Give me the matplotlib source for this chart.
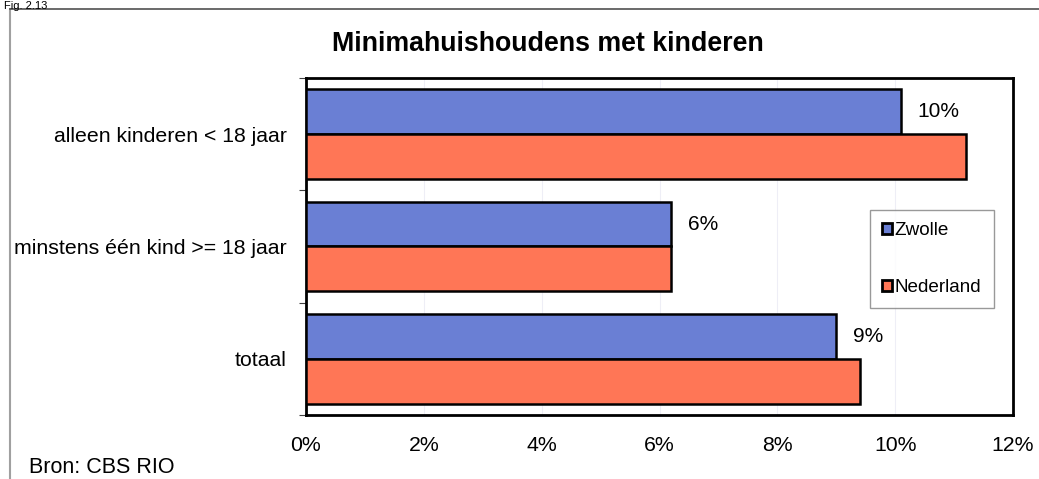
import matplotlib
matplotlib.use("Agg")
import matplotlib.pyplot as plt
from matplotlib.lines import Line2D
import numpy as np

categories = ["alleen kinderen < 18 jaar", "minstens één kind >= 18 jaar", "totaal"]
zwolle = [10.1, 6.2, 9.0]
nederland = [11.2, 6.2, 9.4]
zwolle_labels = ["10%", "6%", "9%"]
xticks = [0, 2, 4, 6, 8, 10, 12]

BLUE = "#6a7fd4"
SALMON = "#ff7656"

plt.rcParams["font.family"] = ["Liberation Sans", "DejaVu Sans"]

fig = plt.figure(figsize=(10.39, 4.79), dpi=100)
ax = fig.add_axes([0.2945, 0.1336, 0.6805, 0.7036])

y = np.arange(len(categories))
h = 0.4
ax.barh(y - h / 2, zwolle, height=h, color=BLUE, edgecolor="black", lw=1.8, label="Zwolle", zorder=3)
ax.barh(y + h / 2, nederland, height=h, color=SALMON, edgecolor="black", lw=1.8, label="Nederland", zorder=3)
for yi, v, lab in zip(y, zwolle, zwolle_labels):
    ax.text(v + 0.28, yi - h / 2, lab, va="center", ha="left", fontsize=15)

ax.set_ylim(len(categories) - 0.5, -0.5)
ax.set_xlim(0, 12)
ax.set_yticks(y)
ax.set_yticklabels(categories, fontsize=15.3)
ax.set_yticks(np.arange(-0.5, len(categories), 1), minor=True)
ax.tick_params(axis="y", which="major", length=0, pad=14)
ax.tick_params(axis="y", which="minor", length=5, width=0.8, color="#404040")
ax.set_xticks(xticks)
ax.set_xticklabels([f"{t}%" for t in xticks], fontsize=15.3)
ax.tick_params(axis="x", length=0, pad=15)
ax.grid(axis="x", color="#eeeef6", lw=0.8, zorder=0)
for s in ax.spines.values():
    s.set_linewidth(2)
    s.set_color("black")

leg = ax.legend(loc="upper left", bbox_to_anchor=(0.798, 0.608), fontsize=13.6, frameon=True,
                fancybox=False, edgecolor="#808080", handlelength=0.5, handleheight=0.5,
                handletextpad=0.15, labelspacing=2.1, borderpad=0.65, borderaxespad=0)
leg.get_frame().set_linewidth(1)
for p in leg.get_patches():
    p.set_linewidth(2)

fig.text(0.527, 0.908, "Minimahuishoudens met kinderen", ha="center", va="center",
         fontsize=19.3, fontweight="bold")
fig.text(0.028, 0.025, "Bron: CBS RIO", ha="left", va="center", fontsize=15.5)
fig.text(0.004, 0.998, "Fig. 2.13", ha="left", va="top", fontsize=8)

# outer frame
fig.add_artist(Line2D([0.0095, 0.0095], [0, 0.981], transform=fig.transFigure, color="#a0a0a0", lw=1.5))
fig.add_artist(Line2D([0.0095, 1.0], [0.981, 0.981], transform=fig.transFigure, color="#505050", lw=1.2))

fig.savefig("out.png", dpi=100)
